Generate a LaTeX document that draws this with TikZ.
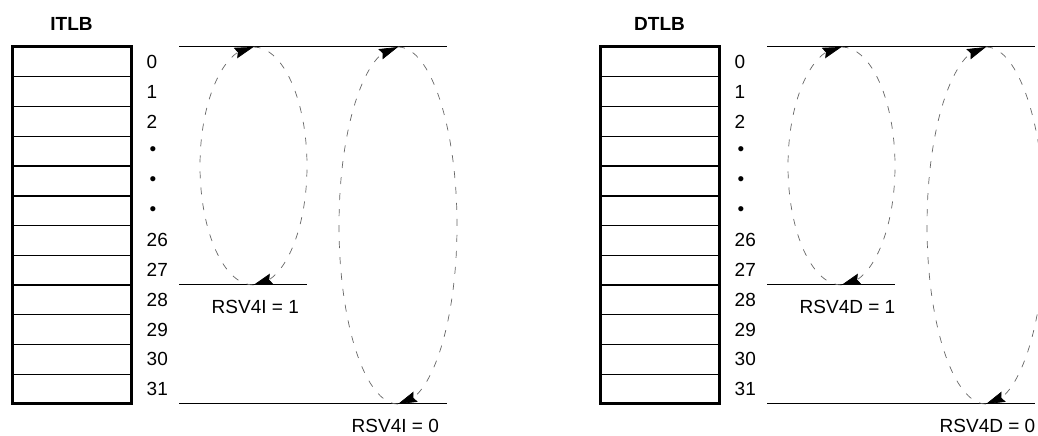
\documentclass[tikz,border=0pt]{standalone}
\usepackage{fontspec}
\setmainfont{Liberation Sans}
\usetikzlibrary{arrows.meta,bending}
\tikzset{
  row/.style={draw, line width=1.1pt, minimum width=119pt, minimum height=29.75pt, inner sep=0pt, outer sep=0pt},
  idx/.style={anchor=west, inner sep=0pt, font=\fontsize{19}{19}\selectfont},
  dotlbl/.style={anchor=center, inner sep=0pt, font=\fontsize{19}{19}\selectfont},
  lbl/.style={anchor=west, inner sep=0pt, font=\fontsize{19}{19}\selectfont},
  ttl/.style={inner sep=0pt, font=\bfseries\fontsize{19}{19}\selectfont},
  lvl/.style={line width=1pt},
  cyc/.style={draw=black!60, line width=0.7pt, dash pattern=on 7pt off 9pt,
    arrows={-Stealth[length=19pt, width=11pt, inset=2.5pt, color=black, flex]}}
}
\begin{document}
\begin{tikzpicture}[x=1pt,y=1pt]
\useasboundingbox (0,0) rectangle (1038,436);
\clip (0,0) rectangle (1038,436);
\foreach \p/\o/\n in {I/0/ITLB, D/588/DTLB}{
\begin{scope}[xshift=\o pt]
  \node[ttl] (title\p) at (71.5,412) {\n};
  \foreach \k in {0,...,11}{
    \node[row] (r\p\k) at (71.5,{374.125-29.75*\k}) {};
  }
  \draw[line width=3pt] (r\p0.north west) rectangle (r\p11.south east);
  \draw[line width=2.2pt] (r\p4.south west) -- (r\p4.south east);
  \foreach \k/\t in {0/0,1/1,2/2,6/26,7/27,8/28,9/29,10/30,11/31}{
    \node[idx] (n\p\k) at (146.5,{374.125-29.75*\k}) {\t};
  }
  \foreach \k in {3,4,5}{
    \node[dotlbl] (n\p\k) at (153,{374.125-29.75*\k}) {•};
  }
  \coordinate (tl\p) at (179,389); \coordinate (tr\p) at (447,389);
  \coordinate (ml\p) at (179,151); \coordinate (mr\p) at (307,151);
  \coordinate (bl\p) at (179,32);  \coordinate (br\p) at (447,32);
  \draw[lvl] (tl\p) -- (tr\p);
  \draw[lvl] (ml\p) -- (mr\p);
  \draw[lvl] (bl\p) -- (br\p);
  \coordinate (st\p) at (253.5,389); \coordinate (sb\p) at (253.5,151);
  \coordinate (bt\p) at (398,389);   \coordinate (bb\p) at (398,32);
  \draw[cyc] (sb\p) arc[start angle=270, end angle=90, x radius=53.5, y radius=119];
  \draw[cyc] (st\p) arc[start angle=90, end angle=-90, x radius=53.5, y radius=119];
  \draw[cyc] (bb\p) arc[start angle=270, end angle=90, x radius=59, y radius=178.5];
  \draw[cyc] (bt\p) arc[start angle=90, end angle=-90, x radius=59, y radius=178.5];
  \node[lbl] (one\p) at (211.5,129) {RSV4\p{} = 1};
  \node[lbl] (zero\p) at (351.5,10) {RSV4\p{} = 0};
\end{scope}
}
\end{tikzpicture}
\end{document}
